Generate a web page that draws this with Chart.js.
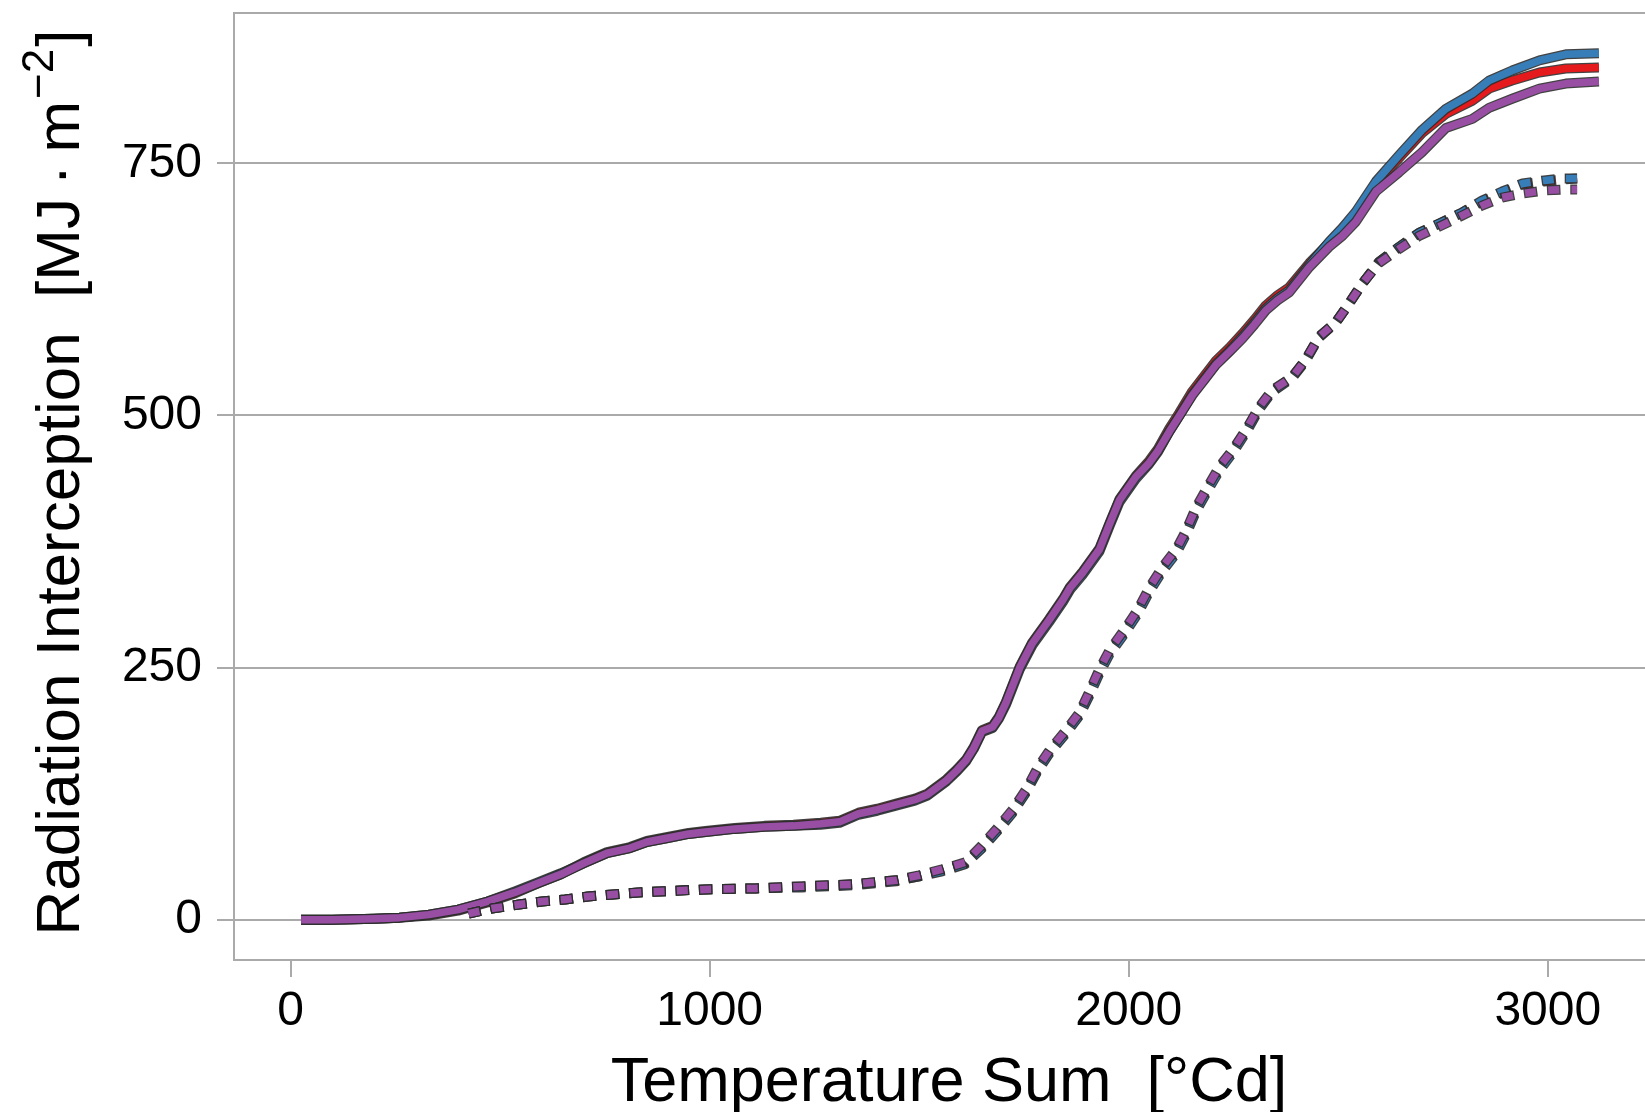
<!DOCTYPE html>
<html>
<head>
<meta charset="utf-8">
<script src="https://cdn.jsdelivr.net/npm/chart.js@4"></script>
<style>
  html, body { margin: 0; padding: 0; background: #fff; }
</style>
</head>
<body>
<canvas id="thecanvas" width="1645" height="1112"></canvas>
<script>
// temperature sum (x) for the solid runs
const tsSolid = [25, 100, 200, 260, 330, 400, 470, 535, 590, 645, 700, 755, 810, 850, 900, 950, 990, 1060, 1130, 1200,
  1265, 1310, 1355, 1400, 1445, 1490, 1520, 1565, 1590, 1612, 1630, 1650, 1675, 1690, 1707, 1740, 1770, 1810, 1843, 1860,
  1890, 1930, 1955, 1978, 2017, 2049, 2070, 2097, 2120, 2152, 2180, 2208, 2240, 2271, 2300, 2327, 2355, 2383, 2431, 2478,
  2510, 2542, 2590, 2645, 2700, 2757, 2820, 2860, 2915, 2980, 3043, 3122];
const solidPurple = [0, 0, 1, 2, 5, 10, 18, 27, 36, 45, 56, 66, 71, 77, 81, 85, 87, 90, 92, 93,
  95, 97, 105, 109, 114, 119, 124, 138, 148, 158, 170, 187, 191, 200, 215, 250, 274, 297, 317, 329,
  344, 367, 393, 416, 439, 453, 465, 484, 499, 520, 535, 550, 563, 576, 590, 604, 614, 622, 647, 667,
  678, 692, 722, 741, 761, 785, 794, 805, 814, 824, 829, 831];
const solidRed = [0, 0, 1, 2, 4, 9, 17, 26, 36, 45, 57, 67, 72, 78, 82, 86, 88, 91, 93, 94,
  96, 98, 106, 110, 115, 120, 125, 139, 149, 159, 171, 188, 192, 201, 216, 251, 275, 298, 318, 330,
  345, 368, 394, 417, 440, 455, 467, 487, 502, 524, 539, 554, 567, 581, 595, 609, 619, 627, 651, 671,
  684, 699, 730, 755, 780, 799, 812, 824, 832, 840, 844, 845];
const solidBlue = [0, 0, 1, 2, 5, 10, 18, 28, 37, 46, 56, 66, 71, 77, 81, 85, 87, 90, 92, 93,
  94, 96, 104, 108, 113, 118, 123, 137, 147, 157, 169, 186, 190, 199, 213, 248, 272, 295, 315, 327,
  342, 365, 391, 414, 437, 452, 464, 484, 499, 521, 536, 551, 564, 578, 592, 606, 616, 624, 649, 672,
  686, 702, 732, 758, 783, 804, 819, 832, 842, 852, 858, 859];

// temperature sum (x) for the dotted runs
const tsDotted = [425, 480, 545, 600, 655, 710, 770, 830, 880, 990, 1110, 1220, 1340, 1445, 1500, 1555, 1610, 1648, 1687, 1723,
  1755, 1782, 1811, 1851, 1882, 1906, 1930, 1954, 1989, 2021, 2049, 2081, 2113, 2137, 2161, 2188, 2216, 2250, 2283, 2311,
  2342, 2390, 2422, 2454, 2494, 2526, 2558, 2597, 2645, 2693, 2740, 2795, 2843, 2891, 2940, 2991, 3040, 3070];
const dottedPurple = [6, 11, 15, 18, 20, 23, 25, 27, 28, 30, 31, 33, 35, 39, 44, 50, 57, 73, 91, 109,
  129, 150, 168, 188, 205, 226, 248, 267, 287, 307, 329, 350, 367, 386, 409, 429, 449, 467, 488, 508,
  525, 538, 555, 578, 592, 611, 631, 651, 665, 678, 687, 698, 708, 716, 720, 723, 724, 724];
const dottedRed = [6, 11, 15, 18, 20, 23, 25, 27, 28, 30, 31, 33, 35, 39, 43, 49, 56, 71, 89, 107,
  127, 148, 166, 186, 203, 224, 246, 265, 285, 305, 327, 348, 365, 384, 407, 427, 447, 466, 487, 507,
  524, 538, 555, 578, 592, 611, 631, 652, 667, 681, 690, 701, 712, 721, 729, 732, 734, 735];
const dottedBlue = [6, 11, 15, 18, 20, 23, 25, 27, 28, 30, 31, 32, 34, 38, 43, 48, 55, 70, 88, 106,
  126, 147, 165, 185, 202, 222, 244, 263, 283, 303, 325, 346, 363, 382, 405, 425, 445, 464, 485, 506,
  523, 537, 554, 577, 592, 611, 631, 652, 667, 681, 690, 701, 713, 722, 730, 733, 735, 735];

const xTicks = [0, 1000, 2000, 3000];
const yTicks = [0, 250, 500, 750];

const red = '#E41A1C';
const blue = '#377EB8';
const purple = '#984EA3';
const rim = 'rgba(45,45,45,0.9)';
const gray = '#aaaaaa';
const fontname = '"Liberation Sans", Arial, sans-serif';

function pts(xs, ys) {
  return xs.map(function (x, i) { return { x: x, y: ys[i] }; });
}

// each run is drawn twice: a dark wider line under the coloured one
function run(xs, ys, color, dotted, order) {
  const data = pts(xs, ys);
  const under = {
    data: data, borderColor: rim, borderWidth: 10, pointRadius: 0, tension: 0,
    borderJoinStyle: 'round', borderCapStyle: 'butt', order: order + 1
  };
  const top = {
    data: data, borderColor: color, borderWidth: 7.5, pointRadius: 0, tension: 0,
    borderJoinStyle: 'round', borderCapStyle: 'butt', order: order
  };
  if (dotted) {
    under.borderDash = [13.5, 9.8];
    under.borderDashOffset = 1.25;
    top.borderDash = [11, 12.3];
  }
  return [under, top];
}

const datasets = [].concat(
  run(tsSolid, solidRed, red, false, 22),
  run(tsSolid, solidBlue, blue, false, 20),
  run(tsSolid, solidPurple, purple, false, 18),
  run(tsDotted, dottedRed, red, true, 16),
  run(tsDotted, dottedBlue, blue, true, 14),
  run(tsDotted, dottedPurple, purple, true, 12)
);

const frame = {
  id: 'frame',
  beforeDatasetsDraw(chart) {
    const a = chart.chartArea;
    const c = chart.ctx;
    c.save();
    c.strokeStyle = gray;
    c.lineWidth = 2;
    c.beginPath();
    c.moveTo(a.left, a.top);
    c.lineTo(a.right, a.top);
    c.stroke();
    c.restore();
  },
  afterDraw(chart) {
    const a = chart.chartArea;
    const c = chart.ctx;
    const big = '62px ' + fontname;
    const small = '44px ' + fontname;
    c.save();
    c.fillStyle = '#000';
    c.textBaseline = 'alphabetic';
    c.textAlign = 'center';
    c.font = '63px ' + fontname;
    // x title
    c.fillText('Temperature Sum  [\u00b0Cd]', 949, 1101);

    // y title with superscript
    c.textAlign = 'left';
    c.font = big;
    const p1 = 'Radiation Interception  [MJ\u2009\u00b7\u2009m';
    const p2 = '\u22122';
    const p3 = ']';
    const w1 = c.measureText(p1).width;
    const w3 = c.measureText(p3).width;
    c.font = small;
    const w2 = c.measureText(p2).width;
    const total = w1 + w2 + w3 + 4;
    c.translate(79, (a.top + a.bottom) / 2 - 4);
    c.rotate(-Math.PI / 2);
    let x = -total / 2;
    c.font = big;
    c.fillText(p1, x, 0);
    x += w1 + 2;
    c.font = small;
    c.fillText(p2, x, -26);
    x += w2 + 2;
    c.font = big;
    c.fillText(p3, x, 0);
    c.restore();
  }
};

new Chart(document.getElementById('thecanvas'), {
  type: 'line',
  data: { datasets: datasets },
  options: {
    responsive: false,
    animation: false,
    devicePixelRatio: 1,
    layout: { padding: { top: 13, right: 0, left: 0, bottom: 0 } },
    plugins: { legend: { display: false }, tooltip: { enabled: false } },
    scales: {
      x: {
        type: 'linear',
        min: -135,
        max: 3232,
        afterBuildTicks: function (s) { s.ticks = xTicks.map(function (v) { return { value: v }; }); },
        afterFit: function (s) { s.height = 152; s.paddingLeft = 0; s.paddingRight = 0; },
        grid: { drawOnChartArea: false, drawTicks: true, tickLength: 17, color: gray, lineWidth: 2 },
        border: { display: true, color: gray, width: 2 },
        ticks: {
          color: '#000', font: { family: fontname, size: 48 }, padding: 6, maxRotation: 0,
          callback: function (v) { return String(v); }
        }
      },
      y: {
        type: 'linear',
        min: -40,
        max: 899,
        afterBuildTicks: function (s) { s.ticks = yTicks.map(function (v) { return { value: v }; }); },
        afterFit: function (s) { s.width = 234; s.paddingTop = 0; s.paddingBottom = 0; },
        grid: { drawOnChartArea: true, drawTicks: true, tickLength: 17, color: gray, lineWidth: 2 },
        border: { display: true, color: gray, width: 2 },
        ticks: {
          color: '#000', font: { family: fontname, size: 48 }, padding: 15,
          callback: function (v) { return String(v); }
        }
      }
    }
  },
  plugins: [frame]
});
</script>
</body>
</html>
